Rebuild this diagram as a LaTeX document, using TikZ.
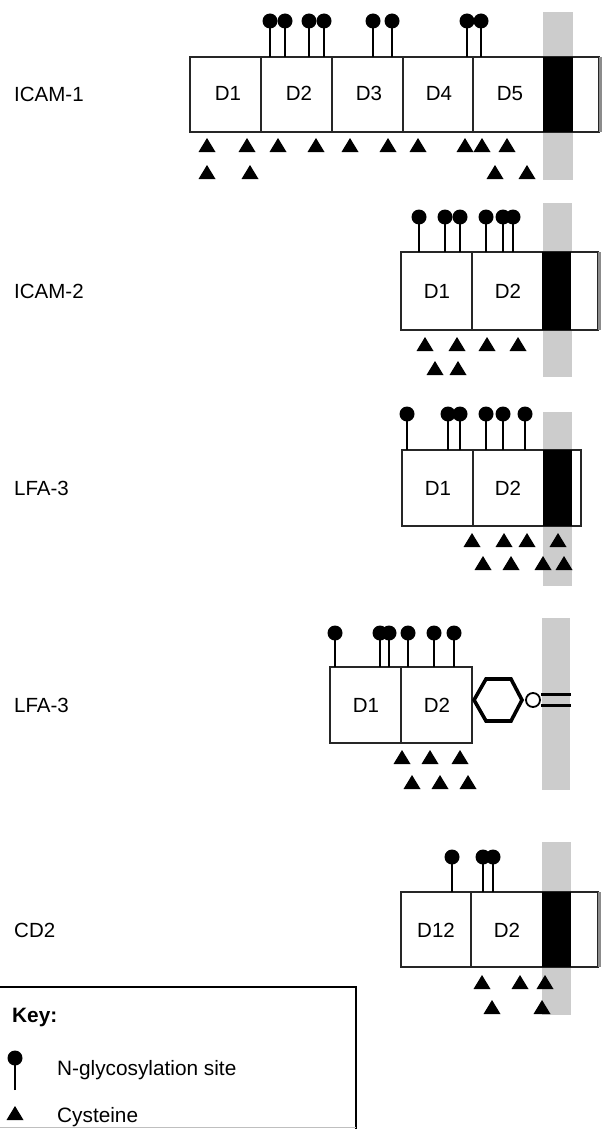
\documentclass[tikz,border=0pt]{standalone}
\usepackage{fontspec}
\setmainfont{Liberation Sans}
\tikzset{
  membrane/.style={fill=black!20},
  domainbox/.style={draw=black!85, line width=1.4pt, fill=white},
  divider/.style={draw=black!85, line width=1.4pt},
  tmregion/.style={fill=black},
  tailedge/.style={draw=black!45, line width=3pt},
  stemline/.style={line width=1.6pt},
  lbl/.style={font=\fontsize{20.5}{24}\selectfont, anchor=base west, inner sep=0pt},
  dom/.style={font=\fontsize{20.5}{24}\selectfont, anchor=base, inner sep=0pt},
  keyrule/.style={line width=2pt},
}
% N-glycosylation site: stem from the domain top up to a filled ball
\newcommand\glyco[3]{\draw[stemline] (#1,#3) -- (#1,#2); \fill (#1,#2) circle[radius=7.5pt];}
% cysteine residue: filled upward triangle centred on (x,y)
\newcommand\cysteine[2]{\fill (#1-8.5,#2+7) -- (#1+8.5,#2+7) -- (#1,#2-7) -- cycle;}
\begin{document}
\begin{tikzpicture}[x=1pt,y=-1pt]
\useasboundingbox (0,0) rectangle (603,1129);

% ---------------- ICAM-1 ----------------
\node[lbl] (l1) at (14,102) {ICAM-1};
\fill[membrane] (543,12) rectangle (573,180);
\filldraw[domainbox] (190,57) rectangle (599,132);
\foreach \x in {261,332,403,473} {\draw[divider] (\x,57) -- (\x,132);}
\fill[tmregion] (543,57) rectangle (573,132);
\draw[tailedge] (600.5,57) -- (600.5,132);
\node[dom] (a1) at (228,101) {D1};
\node[dom] (a2) at (299,101) {D2};
\node[dom] (a3) at (369,101) {D3};
\node[dom] (a4) at (439,101) {D4};
\node[dom] (a5) at (510,101) {D5};
\foreach \x in {270,285,309,324,373,392,467,481} {\glyco{\x}{21}{57}}
\foreach \x in {207,247,278,316,350,388,418,465,482,507} {\cysteine{\x}{145}}
\foreach \x in {207,250,495,527} {\cysteine{\x}{172}}

% ---------------- ICAM-2 ----------------
\node[lbl] (l2) at (14,298.5) {ICAM-2};
\fill[membrane] (543,203) rectangle (572,377);
\filldraw[domainbox] (401,252) rectangle (598,330);
\draw[divider] (472,252) -- (472,330);
\fill[tmregion] (542,252) rectangle (571,330);
\draw[tailedge] (599.5,252) -- (599.5,330);
\node[dom] (b1) at (437,298) {D1};
\node[dom] (b2) at (508,298) {D2};
\foreach \x in {419,445,460,486,503,513} {\glyco{\x}{217}{252}}
\foreach \x in {425,457,487,518} {\cysteine{\x}{344}}
\foreach \x in {435,458} {\cysteine{\x}{368}}

% ---------------- LFA-3 (transmembrane form) ----------------
\node[lbl] (l3) at (14,495.5) {LFA-3};
\fill[membrane] (543,412) rectangle (572,586);
\filldraw[domainbox] (402,450) rectangle (581,526);
\draw[divider] (473,450) -- (473,526);
\fill[tmregion] (543,450) rectangle (572,526);
\node[dom] (c1) at (438,495.5) {D1};
\node[dom] (c2) at (508,495.5) {D2};
\foreach \x in {407,448,460,486,503,525} {\glyco{\x}{414}{450}}
\foreach \x in {472,504,527,558} {\cysteine{\x}{540}}
\foreach \x in {483,511,543,564} {\cysteine{\x}{563}}

% ---------------- LFA-3 (GPI-anchored form) ----------------
\node[lbl] (l4) at (14,712.5) {LFA-3};
\fill[membrane] (542,618) rectangle (570,790);
\filldraw[domainbox] (330,667) rectangle (472,743);
\draw[divider] (401,667) -- (401,743);
\node[dom] (d1) at (366,712.5) {D1};
\node[dom] (d2) at (437,712.5) {D2};
\foreach \x in {335,380,389,408,434,454} {\glyco{\x}{633}{667}}
\foreach \x in {402,430,460} {\cysteine{\x}{757}}
\foreach \x in {412,440,468} {\cysteine{\x}{782}}
% glycolipid anchor: inositol ring, phosphate and two lipid chains
\draw[line width=3.6pt, line join=miter]
  (474,700) -- (486,679) -- (511,679) -- (522,700) -- (511,721) -- (486,721) -- cycle;
\node[circle, draw, line width=1.8pt, fill=white, minimum size=14pt, inner sep=0pt] (ph) at (533,700) {};
\coordinate (lipA) at (571,694.5);
\coordinate (lipB) at (571,705.5);
\draw[line width=3pt] (ph.east |- lipA) -- (lipA);
\draw[line width=3pt] (ph.east |- lipB) -- (lipB);

% ---------------- CD2 ----------------
\node[lbl] (l5) at (14,937.5) {CD2};
\fill[membrane] (542,842) rectangle (571,1015);
\filldraw[domainbox] (401,892) rectangle (598,967);
\draw[divider] (471,892) -- (471,967);
\fill[tmregion] (542,892) rectangle (571,967);
\draw[tailedge] (599.5,892) -- (599.5,967);
\node[dom] (e1) at (436,937) {D12};
\node[dom] (e2) at (507,937) {D2};
\foreach \x in {452,483,493} {\glyco{\x}{857}{892}}
\foreach \x in {482,520,545} {\cysteine{\x}{982}}
\foreach \x in {492,542} {\cysteine{\x}{1007}}

% ---------------- Key ----------------
\draw[keyrule] (0,987) -- (356,987) -- (356,1129);
\draw[black!25, line width=0.8pt] (0,1127.5) -- (356,1127.5);
\node[lbl, font=\fontsize{20.8}{24}\selectfont\bfseries] (k0) at (12,1022) {Key:};
\glyco{15}{1058}{1090}
\node[lbl, font=\fontsize{20.8}{24}\selectfont] (k1) at (57,1075) {N-glycosylation site};
\cysteine{15}{1113}
\node[lbl, font=\fontsize{20.8}{24}\selectfont] (k2) at (57,1122) {Cysteine};
\end{tikzpicture}
\end{document}
